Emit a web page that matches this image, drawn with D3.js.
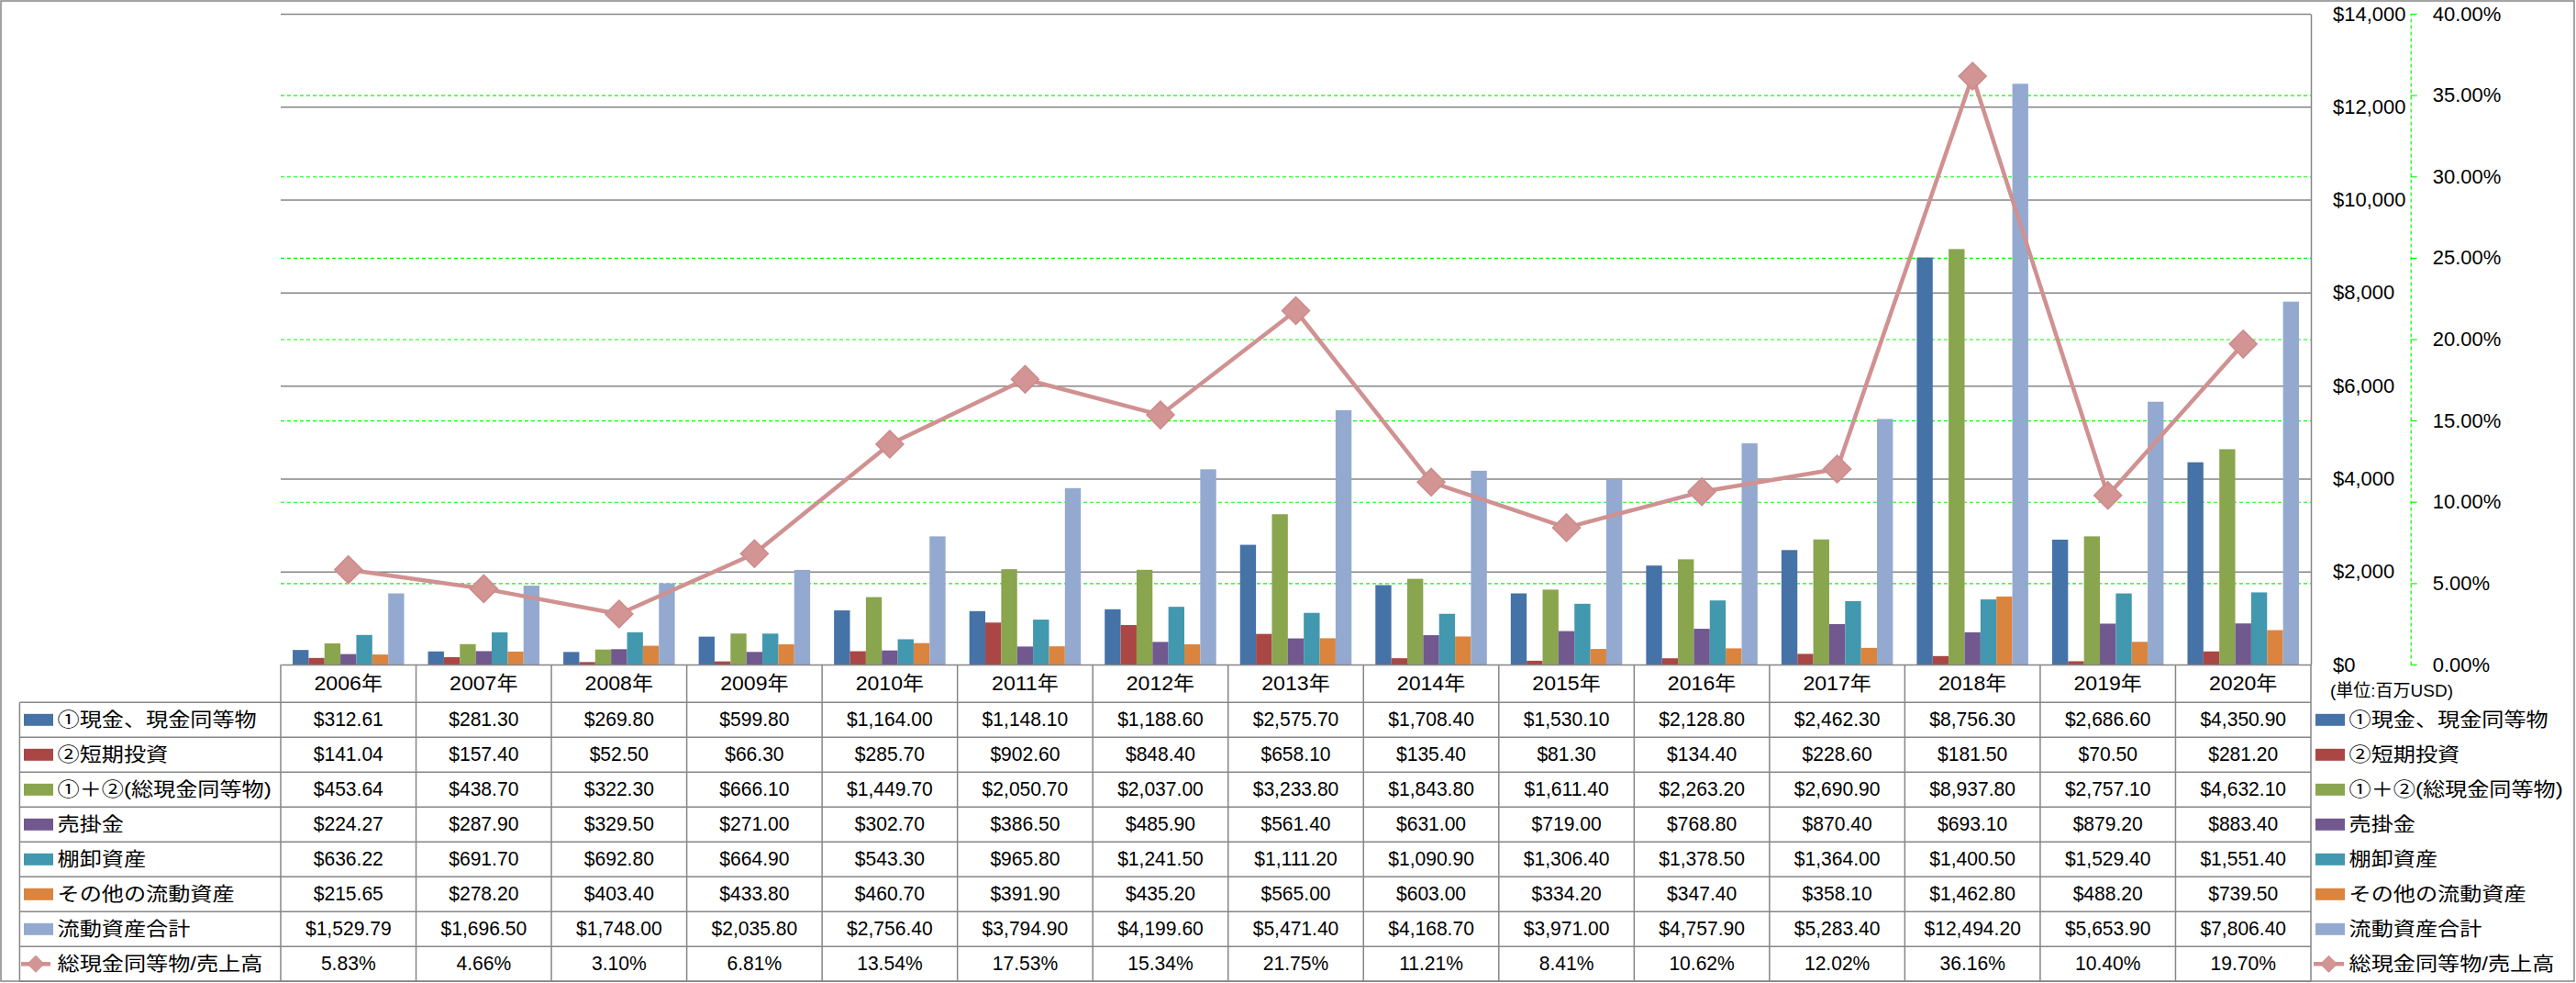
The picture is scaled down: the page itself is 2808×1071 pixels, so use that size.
<!DOCTYPE html>
<html>
<head>
<meta charset="utf-8">
<script src="https://cdn.jsdelivr.net/npm/d3@7"></script>
<style>
  html, body { margin: 0; padding: 0; background: #ffffff; }
  svg { display: block; }
  text { font-family: "Liberation Sans", "Noto Sans CJK JP", sans-serif; fill: #000; }
</style>
</head>
<body>
<svg id="chart" width="2808" height="1071"></svg>
<script>
// ---------------- data ----------------
const years = ["2006年","2007年","2008年","2009年","2010年","2011年","2012年","2013年","2014年","2015年","2016年","2017年","2018年","2019年","2020年"];
const seriesNames = ["①現金、現金同等物","②短期投資","①＋②(総現金同等物)","売掛金","棚卸資産","その他の流動資産","流動資産合計"];
const lineName = "総現金同等物/売上高";
const cash        = [312.61,281.30,269.80,599.80,1164.00,1148.10,1188.60,2575.70,1708.40,1530.10,2128.80,2462.30,8756.30,2686.60,4350.90];
const shortInv    = [141.04,157.40,52.50,66.30,285.70,902.60,848.40,658.10,135.40,81.30,134.40,228.60,181.50,70.50,281.20];
const totalCash   = [453.64,438.70,322.30,666.10,1449.70,2050.70,2037.00,3233.80,1843.80,1611.40,2263.20,2690.90,8937.80,2757.10,4632.10];
const receivables = [224.27,287.90,329.50,271.00,302.70,386.50,485.90,561.40,631.00,719.00,768.80,870.40,693.10,879.20,883.40];
const inventory   = [636.22,691.70,692.80,664.90,543.30,965.80,1241.50,1111.20,1090.90,1306.40,1378.50,1364.00,1400.50,1529.40,1551.40];
const otherCA     = [215.65,278.20,403.40,433.80,460.70,391.90,435.20,565.00,603.00,334.20,347.40,358.10,1462.80,488.20,739.50];
const totalCA     = [1529.79,1696.50,1748.00,2035.80,2756.40,3794.90,4199.60,5471.40,4168.70,3971.00,4757.90,5283.40,12494.20,5653.90,7806.40];
const ratio       = [5.83,4.66,3.10,6.81,13.54,17.53,15.34,21.75,11.21,8.41,10.62,12.02,36.16,10.40,19.70];
const dollarTicks = [0,2000,4000,6000,8000,10000,12000,14000];
const pctTicks    = [0,5,10,15,20,25,30,35,40];
const unitLabel   = "(単位:百万USD)";

const seriesValues = [cash, shortInv, totalCash, receivables, inventory, otherCA, totalCA];
const colors = ["#4572A7","#AA4643","#89A54E","#71588F","#4198AF","#DB843D","#94A9D0"];
const lineColor = "#D09191";
const gridGray = "#868686";
const green = "#00FF00";

// ---------------- layout ----------------
const plotL = 306, plotR = 2519, plotT = 15, plotB = 724;
const tableL = 21.4, headerB = 765.3, rowH = 38;

const svg = d3.select("#chart");

// outer frame
svg.append("rect").attr("x",1).attr("y",1).attr("width",2805).attr("height",1068)
  .attr("fill","#fff").attr("stroke",gridGray).attr("stroke-width",1.5);

const x = d3.scaleBand().domain(years).range([plotL, plotR]).paddingInner(0).paddingOuter(0);
const xs = d3.scaleBand().domain(seriesNames).range([0, x.bandwidth()]).paddingInner(0).paddingOuter(0.75);
const y = d3.scaleLinear().domain([0,14000]).range([plotB, plotT]);
const yR = d3.scaleLinear().domain([0,40]).range([plotB, plotT]);

// green dashed secondary gridlines
svg.append("g").attr("class","grid2")
  .attr("transform",`translate(${plotL},0)`)
  .call(d3.axisLeft(yR).tickValues(pctTicks.slice(1)).tickSize(-(plotR-plotL)).tickFormat(""))
  .call(g => g.select(".domain").remove())
  .call(g => g.selectAll("line").attr("stroke",green).attr("stroke-width",1.2).attr("stroke-dasharray","4,3"));

// gray primary gridlines
svg.append("g").attr("class","grid1")
  .attr("transform",`translate(${plotL},0)`)
  .call(d3.axisLeft(y).tickValues(dollarTicks.slice(1)).tickSize(-(plotR-plotL)).tickFormat(""))
  .call(g => g.select(".domain").remove())
  .call(g => g.selectAll("line").attr("stroke",gridGray).attr("stroke-width",1.5));

// bars
const groups = svg.append("g").selectAll("g").data(years).join("g")
  .attr("transform", d => `translate(${x(d)},0)`);
groups.selectAll("rect")
  .data((d,i) => seriesNames.map((s,j) => ({s, v: seriesValues[j][i], c: colors[j]})))
  .join("rect")
  .attr("x", d => xs(d.s))
  .attr("width", xs.bandwidth())
  .attr("y", d => y(d.v))
  .attr("height", d => plotB - y(d.v))
  .attr("fill", d => d.c);

// x axis line
svg.append("g").attr("transform",`translate(0,${plotB})`)
  .call(d3.axisBottom(x).tickSize(0).tickFormat(""))
  .call(g => g.select(".domain").attr("stroke",gridGray).attr("stroke-width",1.5));

// primary ($) axis on the right
svg.append("g").attr("transform",`translate(${plotR},0)`)
  .call(d3.axisRight(y).tickValues(dollarTicks).tickSize(0).tickSizeOuter(0).tickPadding(24).tickFormat(d3.format("$,.0f")))
  .call(g => g.select(".domain").attr("stroke",gridGray).attr("stroke-width",1.5))
  .call(g => g.selectAll("text").attr("font-size",22).attr("fill","#000")
        .attr("font-family",'"Liberation Sans", sans-serif'));

// secondary (%) axis
const pctAxisX = 2627.7;
svg.append("g").attr("transform",`translate(${pctAxisX},0)`)
  .call(d3.axisRight(yR).tickValues(pctTicks).tickSize(7).tickSizeOuter(0).tickPadding(17).tickFormat(d => d3.format(".2f")(d) + "%"))
  .call(g => g.select(".domain").attr("stroke",green).attr("stroke-width",1.2).attr("stroke-dasharray","4,3"))
  .call(g => g.selectAll(".tick line").attr("stroke",green).attr("stroke-width",1.2))
  .call(g => g.selectAll("text").attr("font-size",22).attr("fill","#000")
        .attr("font-family",'"Liberation Sans", sans-serif'));

// line series
const cx = d => x(d) + x.bandwidth()/2;
const lineGen = d3.line().x((d,i) => cx(years[i])).y(d => yR(d));
svg.append("path").datum(ratio)
  .attr("d", lineGen).attr("fill","none").attr("stroke",lineColor)
  .attr("stroke-width",4.5).attr("stroke-linejoin","round");
const diamond = (r) => `M0,${-r}L${r},0L0,${r}L${-r},0Z`;
svg.append("g").selectAll("path").data(ratio).join("path")
  .attr("transform",(d,i) => `translate(${cx(years[i])},${yR(d)})`)
  .attr("d", diamond(15)).attr("fill","#D39494").attr("stroke","#CC8B8B").attr("stroke-width",1.5);

// ---------------- data table ----------------
const tbl = svg.append("g");
const rowsCount = 8;
for (let r = 0; r <= rowsCount; r++) {
  tbl.append("line").attr("x1",tableL).attr("x2",plotR)
    .attr("y1",headerB + r*rowH).attr("y2",headerB + r*rowH)
    .attr("stroke",gridGray).attr("stroke-width",1.5);
}
tbl.append("line").attr("x1",tableL).attr("x2",tableL).attr("y1",headerB).attr("y2",headerB+rowsCount*rowH)
  .attr("stroke",gridGray).attr("stroke-width",1.5);
years.concat(["__end"]).forEach((yr,k) => {
  const xx = k < years.length ? x(yr) : plotR;
  tbl.append("line").attr("x1",xx).attr("x2",xx).attr("y1",plotB).attr("y2",headerB+rowsCount*rowH)
    .attr("stroke",gridGray).attr("stroke-width",1.5);
});

function addText(parent, tx, ty, str, size, sx, anchor, fill) {
  return parent.append("text")
    .attr("transform",`translate(${tx},${ty}) scale(${sx},1)`)
    .attr("text-anchor", anchor).attr("dominant-baseline","central")
    .attr("font-size", size).attr("fill", fill || "#000").text(str);
}

// header years
years.forEach(yr => addText(tbl, cx(yr), (plotB+headerB)/2, yr, 22, 1.05, "middle"));

// values
const fmtD = d3.format("$,.2f");
const tableRows = seriesValues.map(v => v.map(fmtD)).concat([ratio.map(v => d3.format(".2f")(v) + "%")]);
tableRows.forEach((row, r) => {
  const yc = headerB + r*rowH + rowH/2;
  row.forEach((s, i) => addText(tbl, cx(years[i]), yc, s, 21.5, 0.98, "middle"));
});

// legends (left inside table, and right)
function legend(boxX, textX, lineX1, lineX2) {
  seriesNames.concat([lineName]).forEach((name, r) => {
    const yc = headerB + r*rowH + rowH/2;
    if (r < seriesNames.length) {
      tbl.append("rect").attr("x",boxX).attr("y",yc-6.5).attr("width",32).attr("height",13).attr("fill",colors[r]);
    } else {
      tbl.append("line").attr("x1",lineX1).attr("x2",lineX2).attr("y1",yc).attr("y2",yc)
        .attr("stroke",lineColor).attr("stroke-width",4.5);
      tbl.append("path").attr("transform",`translate(${(lineX1+lineX2)/2},${yc})`)
        .attr("d",diamond(9)).attr("fill","#D39494").attr("stroke","#CC8B8B").attr("stroke-width",1);
    }
    addText(tbl, textX, yc, name, 21, 1.15, "start");
  });
}
legend(26, 62.5, 23, 55);
legend(2524, 2560.5, 2522, 2555);

// unit label
addText(svg, 2540, 752, unitLabel, 19, 1.0, "start", "#404040");
</script>
</body>
</html>
